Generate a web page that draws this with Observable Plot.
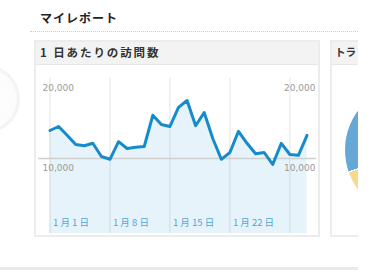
<!DOCTYPE html>
<html>
<head>
<meta charset="utf-8">
<script src="https://cdn.jsdelivr.net/npm/d3@7"></script>
<script src="https://cdn.jsdelivr.net/npm/@observablehq/plot@0.6"></script>
<style>
  html, body { margin: 0; padding: 0; background: #fff; }
  body { width: 374px; height: 276px; overflow: hidden; font-family: "Noto Sans CJK JP", sans-serif; }
  #page { position: relative; width: 358px; height: 276px; overflow: hidden; }
  .abs { position: absolute; }
  #title { left: 40px; top: 9px; font-size: 12px; font-weight: bold; color: #222; letter-spacing: 1px; line-height: 18px; }
  #dots { left: 30px; top: 31px; width: 330px; border-top: 1px dotted #cfcfcf; }
  .panel { border: 2px solid #ececec; box-sizing: border-box; background: #fff; }
  .phead { background: #f3f3f3; border-bottom: 1px solid #e6e6e6; box-sizing: border-box; font-size: 11.5px; font-weight: bold; color: #333; line-height: 20px; padding-left: 4px; letter-spacing: 1.9px; white-space: nowrap; }
  #bottomline { left: 0; top: 267px; width: 358px; height: 3px; background: #e9e9e9; }
  #knob { left: -48px; top: 65px; width: 68px; height: 68px; border-radius: 50%; background: radial-gradient(circle, #fefefe 0%, #fcfcfc 62%, #f3f3f3 66%, #f6f6f6 90%, #fafafa 100%); }
  #chart { left: 35px; top: 63px; }
  #pie { left: 345px; top: 84px; width: 132px; height: 132px; border-radius: 50%; }
</style>
</head>
<body>
<div id="page">
  <div id="knob" class="abs"></div>
  <div id="title" class="abs">マイレポート</div>
  <div id="dots" class="abs"></div>
  <div class="abs panel" style="left:34px;top:40px;width:286px;height:197px;">
    <div class="phead" style="height:23px;">1 日あたりの訪問数</div>
  </div>
  <div class="abs panel" style="left:330px;top:40px;width:60px;height:197px;">
    <div class="phead" style="height:23px;letter-spacing:0;padding-left:3px;font-size:10.5px;">トラ</div>
  </div>
  <div id="pie" class="abs"></div>
  <div id="chart" class="abs"></div>
  <div id="bottomline" class="abs"></div>
</div>
<script>
// ---- data ----
const days = [1,2,3,4,5,6,7,8,9,10,11,12,13,14,15,16,17,18,19,20,21,22,23,24,25,26,27,28,29,30,31];
const visits = [13500,14000,12900,11750,11600,11900,10250,9900,12100,11250,11400,11500,15400,14250,14000,16400,17250,14100,15750,12500,9900,10750,13400,11900,10600,10750,9250,11900,10500,10400,12900];
const gridDays = [1,8,15,22,29];
const labelDays = [1,8,15,22];
const dateLabels = ["1 月 1 日","1 月 8 日","1 月 15 日","1 月 22 日"];
const yTicks = [20000,10000];
const yTickLabels = ["20,000","10,000"];
const baselineTick = [10000];
// traffic pie (partially visible)
const trafficNames = ["検索", "その他"];
const trafficShares = [0.86, 0.14];

const toDate = d => new Date(Date.UTC(2013, 0, d));
const series = days.map((d, i) => ({date: toDate(d), value: visits[i]}));
const grid = gridDays.map(toDate);
const labels = labelDays.map((d, i) => ({date: toDate(d), text: dateLabels[i]}));
const yLab = yTicks.map((v, i) => ({value: v, text: yTickLabels[i]}));

const numFont = "'DejaVu Sans', sans-serif";
const cjkFont = "'Noto Sans CJK JP', sans-serif";

const chart = Plot.plot({
  width: 284,
  height: 172,
  marginLeft: 3,
  marginRight: 3,
  marginTop: 15,
  marginBottom: 2,
  style: {background: "transparent", overflow: "visible"},
  x: {type: "utc", domain: [toDate(days[0]), toDate(days[days.length - 1])], range: [14.5, 271.5], axis: null},
  y: {domain: [0, 20000], range: [175, 15], axis: null},
  marks: [
    Plot.ruleX(grid, {x: d => d, stroke: "#e4e4e4", strokeWidth: 1}),
    Plot.areaY(series, {x: "date", y: "value", fill: "#1a8fd0", fillOpacity: 0.11, clip: true}),
    Plot.ruleY(baselineTick, {y: d => d, stroke: "#cfcfcf", strokeWidth: 1.5}),
    Plot.line(series, {x: "date", y: "value", stroke: "#168bcb", strokeWidth: 3, strokeLinejoin: "round", curve: "linear"}),
    Plot.text(yLab, {y: "value", text: "text", frameAnchor: "left", textAnchor: "start", dx: 4, dy: 9.5, fill: "#9a9a9a", fontSize: 9, fontFamily: numFont}),
    Plot.text(yLab, {y: "value", text: "text", frameAnchor: "right", textAnchor: "end", dx: -1, dy: 9.5, fill: "#9a9a9a", fontSize: 9, fontFamily: numFont}),
    Plot.text(labels, {x: "date", text: "text", frameAnchor: "bottom", textAnchor: "start", dx: 3, dy: -8, fill: "#4fa6da", fontSize: 9.5, fontFamily: cjkFont})
  ]
});
document.getElementById("chart").appendChild(chart);

// pie as conic gradient from the shares (clockwise from the left boundary at 251deg)
const pieColors = ["#65a7d5", "#f7d98b"];
const start = 251;
let acc = 0, stops = [];
trafficShares.forEach((s, i) => {
  const a0 = acc, a1 = acc + s * 360;
  stops.push(`${pieColors[i]} ${a0}deg ${a1 - 1}deg`, `#fff ${a1 - 1}deg ${a1}deg`);
  acc = a1;
});
document.getElementById("pie").style.background = `conic-gradient(from ${start}deg, ${stops.join(", ")})`;
</script>
</body>
</html>
